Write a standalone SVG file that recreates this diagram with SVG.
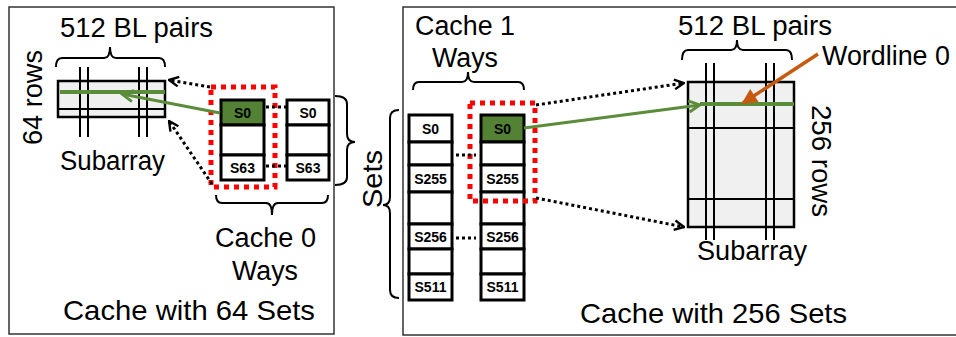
<svg xmlns="http://www.w3.org/2000/svg" width="956" height="337" viewBox="0 0 956 337">
  <defs>
    <style>
      .frame { fill: #ffffff; stroke: #333333; stroke-width: 1.5; }
      .lbl { font-family: "Liberation Sans", Arial, sans-serif; font-size: 27px; fill: #000000; }
      .big { font-size: 28px; }
      .cell { fill: #ffffff; stroke: #000000; stroke-width: 3; }
      .hit { fill: #548235; }
      .set { font-family: "Liberation Sans", Arial, sans-serif; font-weight: bold; font-size: 14px; fill: #000000; text-anchor: middle; }
      .brace { fill: none; stroke: #000000; stroke-width: 2; }
      .sub { fill: #f0f0f0; stroke: #000000; stroke-width: 2.5; }
      .grid { stroke: #000000; stroke-width: 2; }
      .wl { stroke: #5b8c3a; stroke-width: 4; }
      .dots { fill: none; stroke: #000000; stroke-width: 3; stroke-dasharray: 3 3; }
      .sel { fill: none; stroke: #ff0000; stroke-width: 5; stroke-dasharray: 5 5; }
      .green { fill: none; stroke: #5b8c3a; stroke-width: 3; }
      .orange { fill: none; stroke: #c55a11; stroke-width: 3.5; }
    </style>
    <marker id="headBlack" viewBox="0 0 10 10" refX="9" refY="5" markerWidth="12" markerHeight="12" markerUnits="userSpaceOnUse" orient="auto">
      <path d="M1,1 L9,5 L1,9" fill="none" stroke="#000000" stroke-width="2" stroke-dasharray="none"/>
    </marker>
    <marker id="headGreen" viewBox="0 0 10 10" refX="9" refY="5" markerWidth="14" markerHeight="14" markerUnits="userSpaceOnUse" orient="auto">
      <path d="M1,1 L9,5 L1,9" fill="none" stroke="#5b8c3a" stroke-width="2"/>
    </marker>
    <marker id="headOrange" viewBox="0 0 10 10" refX="9" refY="5" markerWidth="16" markerHeight="16" markerUnits="userSpaceOnUse" orient="auto">
      <path d="M1,1 L9,5 L1,9 Z" fill="#c55a11" stroke="#c55a11" stroke-width="1"/>
    </marker>
  </defs>

  <!-- panel frames -->
  <rect id="panel-64" class="frame" x="9" y="7" width="325" height="327"/>
  <rect id="panel-256" class="frame" x="403" y="7" width="560" height="328"/>

  <!-- ===== left panel: 64-set cache ===== -->
  <g id="subarray-64">
    <rect class="sub" x="58" y="81" width="107" height="36"/>
    <line class="grid" x1="58" y1="109" x2="165" y2="109"/>
    <line class="grid" x1="80" y1="67" x2="80" y2="137"/>
    <line class="grid" x1="88" y1="67" x2="88" y2="137"/>
    <line class="grid" x1="139" y1="67" x2="139" y2="137"/>
    <line class="grid" x1="147" y1="67" x2="147" y2="137"/>
    <line class="wl" x1="60" y1="92" x2="165" y2="92"/>
    <path class="brace" d="M56,67 Q56,58 62,58 H104 Q110,58 110,47 Q110,58 116,58 H159 Q165,58 165,67"/>
    <text class="lbl" x="60" y="37" textLength="153" lengthAdjust="spacingAndGlyphs">512 BL pairs</text>
    <text class="lbl" transform="translate(42,145) rotate(-90)" x="0" y="0" textLength="95" lengthAdjust="spacingAndGlyphs">64 rows</text>
    <text class="lbl" x="60" y="170" textLength="105" lengthAdjust="spacingAndGlyphs">Subarray</text>
  </g>

  <g id="way0-cache0">
    <rect class="cell hit" x="221" y="100" width="43" height="25"/>
    <rect class="cell" x="221" y="125" width="43" height="30"/>
    <rect class="cell" x="221" y="155" width="43" height="25"/>
    <text class="set" x="242.5" y="117.5">S0</text>
    <text class="set" x="242.5" y="172.5">S63</text>
  </g>
  <g id="way1-cache0">
    <rect class="cell" x="287" y="100" width="42" height="25"/>
    <rect class="cell" x="287" y="125" width="42" height="30"/>
    <rect class="cell" x="287" y="155" width="42" height="25"/>
    <text class="set" x="308" y="117.5">S0</text>
    <text class="set" x="308" y="172.5">S63</text>
  </g>
  <rect id="select-64" class="sel" x="211" y="87" width="64" height="100"/>

  <g id="labels-64">
    <path class="brace" d="M216,195 Q216,203 222,203 H266 Q272,203 272,215 Q272,203 278,203 H322 Q328,203 328,195"/>
    <path class="brace" d="M335,96 Q347,96 347,104 V134 Q347,142 355,142 Q347,142 347,150 V177 Q347,185 335,185"/>
    <text class="lbl" x="215" y="247" textLength="101" lengthAdjust="spacingAndGlyphs">Cache 0</text>
    <text class="lbl" x="232" y="280" textLength="66" lengthAdjust="spacingAndGlyphs">Ways</text>
    <text class="lbl big" x="63" y="320" textLength="252" lengthAdjust="spacingAndGlyphs">Cache with 64 Sets</text>
  </g>

  <!-- ===== right panel: 256-set cache ===== -->
  <g id="wayA-cache1">
    <rect class="cell" x="409" y="115" width="43" height="27"/>
    <rect class="cell" x="409" y="142" width="43" height="23"/>
    <rect class="cell" x="409" y="165" width="43" height="27"/>
    <rect class="cell" x="409" y="192" width="43" height="32"/>
    <rect class="cell" x="409" y="224" width="43" height="25"/>
    <rect class="cell" x="409" y="249" width="43" height="25"/>
    <rect class="cell" x="409" y="274" width="43" height="26"/>
    <text class="set" x="430.5" y="133.5">S0</text>
    <text class="set" x="430.5" y="183.5">S255</text>
    <text class="set" x="430.5" y="241.5">S256</text>
    <text class="set" x="430.5" y="292">S511</text>
  </g>
  <g id="wayB-cache1">
    <rect class="cell hit" x="481" y="115" width="43" height="27"/>
    <rect class="cell" x="481" y="142" width="43" height="23"/>
    <rect class="cell" x="481" y="165" width="43" height="27"/>
    <rect class="cell" x="481" y="192" width="43" height="32"/>
    <rect class="cell" x="481" y="224" width="43" height="25"/>
    <rect class="cell" x="481" y="249" width="43" height="25"/>
    <rect class="cell" x="481" y="274" width="43" height="26"/>
    <text class="set" x="502.5" y="133.5">S0</text>
    <text class="set" x="502.5" y="183.5">S255</text>
    <text class="set" x="502.5" y="241.5">S256</text>
    <text class="set" x="502.5" y="292">S511</text>
  </g>
  <rect id="select-256" class="sel" x="470" y="103" width="65" height="98"/>

  <g id="labels-256">
    <path class="brace" d="M413,90 Q413,82 419,82 H462 Q468,82 468,72 Q468,82 474,82 H518 Q524,82 524,90"/>
    <path class="brace" d="M399,110 Q390,110 390,118 V197 Q390,205 383,205 Q390,205 390,213 V290 Q390,298 399,298"/>
    <text class="lbl" x="415" y="35" textLength="100" lengthAdjust="spacingAndGlyphs">Cache 1</text>
    <text class="lbl" x="432" y="67" textLength="66" lengthAdjust="spacingAndGlyphs">Ways</text>
    <text class="lbl big" transform="translate(382,208) rotate(-90)" x="0" y="0" textLength="58" lengthAdjust="spacingAndGlyphs">Sets</text>
    <text class="lbl big" x="580" y="323" textLength="267" lengthAdjust="spacingAndGlyphs">Cache with 256 Sets</text>
  </g>

  <g id="subarray-256">
    <rect class="sub" x="688" y="82" width="106" height="145"/>
    <line class="grid" x1="688" y1="128" x2="794" y2="128"/>
    <line class="grid" x1="688" y1="199" x2="794" y2="199"/>
    <line class="grid" x1="706" y1="63" x2="706" y2="240"/>
    <line class="grid" x1="714" y1="63" x2="714" y2="240"/>
    <line class="grid" x1="766" y1="63" x2="766" y2="240"/>
    <line class="grid" x1="774" y1="63" x2="774" y2="240"/>
    <line class="wl" x1="700" y1="104" x2="794" y2="104"/>
    <path class="brace" d="M682,60 Q682,50 688,50 H731 Q737,50 737,40 Q737,50 743,50 H786 Q792,50 792,60"/>
    <text class="lbl" x="678" y="35" textLength="154" lengthAdjust="spacingAndGlyphs">512 BL pairs</text>
    <text class="lbl" x="822" y="65" textLength="128" lengthAdjust="spacingAndGlyphs">Wordline 0</text>
    <text class="lbl" transform="translate(812,105) rotate(90)" x="0" y="0" textLength="112" lengthAdjust="spacingAndGlyphs">256 rows</text>
    <text class="lbl" x="697" y="260" textLength="110" lengthAdjust="spacingAndGlyphs">Subarray</text>
  </g>

  <!-- connectors -->
  <g id="connectors">
    <line class="dots" x1="266" y1="107" x2="286" y2="107"/>
    <line class="dots" x1="266" y1="166" x2="286" y2="166"/>
    <line class="dots" x1="456" y1="155" x2="476" y2="155"/>
    <line class="dots" x1="456" y1="238" x2="476" y2="238"/>
    <path class="dots" d="M210,87 L169,80" marker-end="url(#headBlack)"/>
    <path class="dots" d="M212,184 L169,121" marker-end="url(#headBlack)"/>
    <path class="dots" d="M536,105 L684,83" marker-end="url(#headBlack)"/>
    <path class="dots" d="M536,198 L684,227" marker-end="url(#headBlack)"/>
    <path class="green" d="M220,113 L122,94" marker-end="url(#headGreen)"/>
    <path class="green" d="M524,128 L700,105" marker-end="url(#headGreen)"/>
    <path class="orange" d="M818,54 L743,103" marker-end="url(#headOrange)"/>
  </g>
</svg>
